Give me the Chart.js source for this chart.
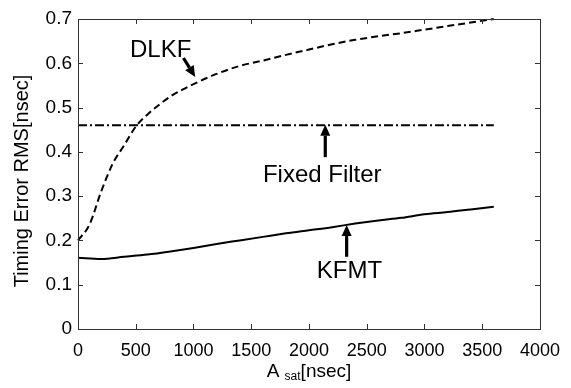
<!DOCTYPE html>
<html lang="en">
<head>
    <meta charset="UTF-8">
    <title>Timing Error RMS vs A sat</title>
    <script src="https://cdn.jsdelivr.net/npm/chart.js"></script>
    <style>
        html, body { margin: 0; padding: 0; background: #fff; overflow: hidden; }
        canvas { display: block; }
    </style>
</head>
<body>
    <canvas id="rmsChart" width="571" height="388"></canvas>

    <script>
        // A_sat sample points [nsec]
        const dlkfX = [0, 100, 200, 300, 400, 500, 600, 700, 800, 900, 1000, 1200, 1400, 1600, 1800, 2000, 2200, 2400, 2600, 2800, 3000, 3200, 3400, 3600];
        const dlkfY = [0.200, 0.236, 0.310, 0.373, 0.415, 0.457, 0.484, 0.506, 0.525, 0.540, 0.553, 0.576, 0.594, 0.606, 0.619, 0.631, 0.643, 0.653, 0.661, 0.668, 0.676, 0.684, 0.692, 0.700];

        const kfmtX = [0, 200, 400, 600, 800, 1000, 1200, 1400, 1600, 1800, 2000, 2200, 2400, 2600, 2800, 3000, 3200, 3400, 3600];
        const kfmtY = [0.161, 0.158, 0.163, 0.168, 0.175, 0.183, 0.192, 0.200, 0.208, 0.216, 0.223, 0.230, 0.238, 0.245, 0.251, 0.259, 0.264, 0.270, 0.276];

        const fixedX = [0, 400, 800, 1200, 1600, 2000, 2400, 2800, 3200, 3600];
        const fixedY = [0.460, 0.460, 0.460, 0.460, 0.460, 0.460, 0.460, 0.460, 0.460, 0.460];

        const xTicks = [0, 500, 1000, 1500, 2000, 2500, 3000, 3500, 4000];
        const yTicks = [0, 0.1, 0.2, 0.3, 0.4, 0.5, 0.6, 0.7];

        const FONT = '"Liberation Sans", Arial, Helvetica, sans-serif';

        function toPoints(xs, ys) {
            return xs.map((x, i) => ({ x: x, y: ys[i] }));
        }

        // text labels with arrows, placed in data coordinates
        const callouts = [
            { text: 'DLKF', tx: 716, ty: 0.614, from: [913, 0.612], to: [1015, 0.569] },
            { text: 'Fixed Filter', tx: 2115, ty: 0.332, from: [2141, 0.388], to: [2141, 0.461] },
            { text: 'KFMT', tx: 2350, ty: 0.115, from: [2326, 0.163], to: [2326, 0.235] }
        ];

        function drawArrow(c, x1, y1, x2, y2) {
            const ang = Math.atan2(y2 - y1, x2 - x1);
            const head = 11, half = 5;
            const bx = x2 - head * Math.cos(ang), by = y2 - head * Math.sin(ang);
            c.strokeStyle = '#000';
            c.lineWidth = 3.2;
            c.beginPath();
            c.moveTo(x1, y1);
            c.lineTo(bx, by);
            c.stroke();
            c.fillStyle = '#000';
            c.beginPath();
            c.moveTo(x2, y2);
            c.lineTo(bx + half * Math.sin(ang), by - half * Math.cos(ang));
            c.lineTo(bx - half * Math.sin(ang), by + half * Math.cos(ang));
            c.closePath();
            c.fill();
        }

        const framePlugin = {
            id: 'frame',
            afterDraw(chart) {
                const c = chart.ctx;
                const a = chart.chartArea;
                const xs = chart.scales.x, ys = chart.scales.y;
                c.save();

                // box around the plot
                c.strokeStyle = '#333';
                c.lineWidth = 1;
                c.strokeRect(a.left + 0.5, a.top + 0.5, a.right - a.left, a.bottom - a.top);

                // inward ticks on all four sides
                const tl = 5;
                c.beginPath();
                xTicks.forEach(v => {
                    const px = Math.round(xs.getPixelForValue(v)) + 0.5;
                    c.moveTo(px, a.bottom); c.lineTo(px, a.bottom - tl);
                    c.moveTo(px, a.top); c.lineTo(px, a.top + tl);
                });
                yTicks.forEach(v => {
                    const py = Math.round(ys.getPixelForValue(v)) + 0.5;
                    c.moveTo(a.left, py); c.lineTo(a.left + tl, py);
                    c.moveTo(a.right, py); c.lineTo(a.right - tl, py);
                });
                c.stroke();

                // callouts
                c.fillStyle = '#000';
                c.font = '24px ' + FONT;
                c.textAlign = 'center';
                c.textBaseline = 'alphabetic';
                callouts.forEach(o => {
                    c.fillText(o.text, xs.getPixelForValue(o.tx), ys.getPixelForValue(o.ty));
                    drawArrow(c,
                        xs.getPixelForValue(o.from[0]), ys.getPixelForValue(o.from[1]),
                        xs.getPixelForValue(o.to[0]), ys.getPixelForValue(o.to[1]));
                });

                // axis titles
                c.fillStyle = '#000';
                const midX = (a.left + a.right) / 2;
                const base = 377;
                c.font = '19px ' + FONT;
                const wA = c.measureText('A ').width;
                const wB = c.measureText('[nsec]').width;
                c.font = '12px ' + FONT;
                const wS = c.measureText('sat').width;
                let x0 = midX - (wA + wS + wB) / 2;
                c.textAlign = 'left';
                c.font = '19px ' + FONT;
                c.fillText('A ', x0, base);
                c.font = '12px ' + FONT;
                c.fillText('sat', x0 + wA, base + 3);
                c.font = '19px ' + FONT;
                c.fillText('[nsec]', x0 + wA + wS, base);

                c.translate(28, (a.top + a.bottom) / 2 + 7);
                c.rotate(-Math.PI / 2);
                c.textAlign = 'center';
                c.font = '20px ' + FONT;
                c.fillText('Timing Error RMS[nsec]', 0, 0);

                c.restore();
            }
        };

        const ctx = document.getElementById('rmsChart').getContext('2d');
        const chart = new Chart(ctx, {
            type: 'line',
            data: {
                datasets: [
                    {
                        label: 'DLKF',
                        data: toPoints(dlkfX, dlkfY),
                        borderColor: '#000',
                        borderWidth: 2,
                        borderDash: [7, 4],
                        cubicInterpolationMode: 'monotone',
                        pointRadius: 0,
                        clip: 4
                    },
                    {
                        label: 'Fixed Filter',
                        data: toPoints(fixedX, fixedY),
                        borderColor: '#000',
                        borderWidth: 2,
                        borderDash: [9, 3, 2, 3],
                        pointRadius: 0,
                        clip: 4
                    },
                    {
                        label: 'KFMT',
                        data: toPoints(kfmtX, kfmtY),
                        borderColor: '#000',
                        borderWidth: 2,
                        cubicInterpolationMode: 'monotone',
                        pointRadius: 0,
                        clip: 4
                    }
                ]
            },
            options: {
                responsive: false,
                animation: false,
                maintainAspectRatio: false,
                devicePixelRatio: 1,
                layout: { padding: { top: 19, right: 24, left: 0, bottom: 0 } },
                plugins: { legend: { display: false }, tooltip: { enabled: false } },
                scales: {
                    x: {
                        type: 'linear',
                        min: 0,
                        max: 4000,
                        afterBuildTicks: s => { s.ticks = xTicks.map(v => ({ value: v })); },
                        afterFit: s => { s.height = 59; },
                        grid: { display: false, drawTicks: false },
                        border: { display: false },
                        ticks: {
                            color: '#000',
                            padding: 11,
                            maxRotation: 0,
                            autoSkip: false,
                            font: { family: FONT, size: 18 },
                            callback: v => String(v)
                        }
                    },
                    y: {
                        min: 0,
                        max: 0.7,
                        afterBuildTicks: s => { s.ticks = yTicks.map(v => ({ value: v })); },
                        afterFit: s => { s.width = 78; },
                        grid: { display: false, drawTicks: false },
                        border: { display: false },
                        ticks: {
                            color: '#000',
                            padding: 6,
                            autoSkip: false,
                            font: { family: FONT, size: 19 },
                            callback: v => String(Math.round(v * 10) / 10)
                        }
                    }
                }
            },
            plugins: [framePlugin]
        });
    </script>
</body>
</html>
